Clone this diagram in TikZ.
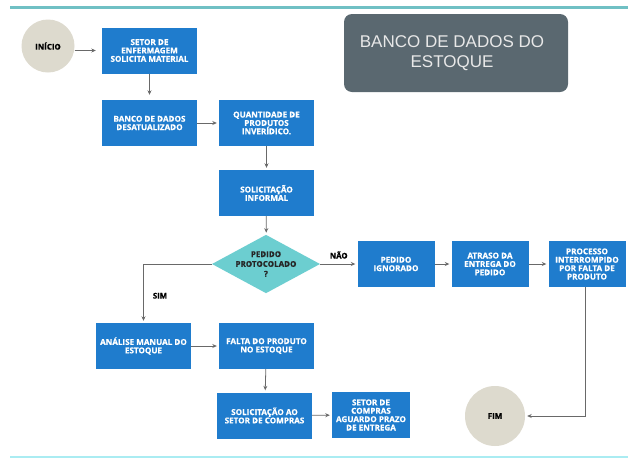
\documentclass[tikz,border=0pt]{standalone}
\usepackage{fontspec}
\setmainfont[BoldFeatures={FakeBold=0.7}]{Open Sans}
\newfontfamily\titlefont{Liberation Sans}
\usetikzlibrary{shapes.geometric,arrows.meta}
\definecolor{boxblue}{RGB}{31,124,205}
\definecolor{diamteal}{RGB}{108,206,208}
\definecolor{termbeige}{RGB}{221,218,206}
\definecolor{titlegray}{RGB}{90,104,112}
\definecolor{titletext}{RGB}{232,232,232}
\definecolor{arrowgray}{RGB}{105,105,105}
\definecolor{topteal}{RGB}{112,192,196}
\definecolor{botcyan}{RGB}{170,236,242}
\begin{document}
\begin{tikzpicture}[x=1pt,y=-1pt,
  procbox/.style={rectangle, fill=boxblue, text=white, font=\bfseries\fontsize{8.1}{8.4}\selectfont, align=center, inner sep=0pt, minimum width=95pt, minimum height=46pt},
  narrowbox/.style={procbox, minimum width=77pt},
  termnode/.style={circle, fill=termbeige, text=black, font=\bfseries\fontsize{7.9}{9}\selectfont, inner sep=0pt},
  decision/.style={diamond, aspect=1.85, fill=diamteal, text=black!85, font=\bfseries\fontsize{8}{9.8}\selectfont, align=center, inner sep=0pt, minimum width=102pt, minimum height=56pt},
  lbl/.style={text=black, font=\bfseries\fontsize{7.8}{9}\selectfont, inner sep=0pt},
  arr/.style={draw=arrowgray, line width=0.8pt, -{Stealth[length=4.5pt,width=4pt]}, shorten >=2pt}
]
\useasboundingbox (0,0) rectangle (628,461);
\fill[white] (0,0) rectangle (628,461);
% decorative lines
\draw[topteal, line width=3pt] (10,7) -- (628,7);
\draw[botcyan, line width=2pt] (10,457) -- (628,457);

% title
\node[rectangle, rounded corners=8pt, fill=titlegray, minimum width=224pt, minimum height=78pt, inner sep=0pt] (title) at (456,53) {};
\node[text=titletext, font=\titlefont\fontsize{17}{20}\selectfont, align=center, inner sep=0pt] (titletxt) at (452,53) {BANCO DE DADOS DO\\ESTOQUE};

% terminals
\node[termnode, minimum size=53pt] (inicio) at (48,46) {INÍCIO};
\node[termnode, minimum size=60pt] (fim) at (495,416) {FIM};

% process boxes
\node[procbox] (b1) at (149.5,50.5) {SETOR DE\\ENFERMAGEM\\SOLICITA MATERIAL};
\node[procbox] (b2) at (149.5,123) {BANCO DE DADOS\\DESATUALIZADO};
\node[procbox] (b3) at (266.5,123) {QUANTIDADE DE\\PRODUTOS\\INVERÍDICO.};
\node[procbox] (b4) at (266.5,193) {SOLICITAÇÃO\\INFORMAL};
\node[decision] (d) at (266,264) {PEDIDO\\PROTOCOLADO\\?};
\node[narrowbox] (ped) at (396,264) {PEDIDO\\IGNORADO};
\node[narrowbox] (atr) at (490,264) {ATRASO DA\\ENTREGA DO\\PEDIDO};
\node[narrowbox] (proc) at (587,264) {PROCESSO\\INTERROMPIDO\\POR FALTA DE\\PRODUTO};
\node[procbox] (ana) at (143.5,346) {ANÁLISE MANUAL DO\\ESTOQUE};
\node[procbox] (fal) at (266.5,346) {FALTA DO PRODUTO\\NO ESTOQUE};
\node[procbox] (sol) at (264.5,415.5) {SOLICITAÇÃO AO\\SETOR DE COMPRAS};
\node[narrowbox, minimum width=78pt] (set) at (371,415) {SETOR DE\\COMPRAS\\AGUARDO PRAZO\\DE ENTREGA};

% connectors
\draw[arr, shorten >=6pt] (inicio.east |- b1.west) -- (b1.west);
\draw[arr, shorten >=5pt] (b1) -- (b2);
\draw[arr] (b2) -- (b3);
\draw[arr] (b3) -- (b4);
\draw[arr] (b4) -- (d);
\draw[arr] (d.east) -- (ped.west) node[lbl, pos=0.5, above=5pt] (nao) {NÃO};
\draw[arr] (ped) -- (atr);
\draw[arr] (atr) -- (proc);
\draw[arr] (d.west) -| (ana.north) node[lbl, pos=0.77, right=9pt] (sim) {SIM};
\draw[arr] (ana) -- (fal);
\draw[arr] (fal) -- (sol);
\draw[arr] (sol) -- (set);
\draw[arr] ([xshift=-2pt]proc.south) |- (fim.east);
\end{tikzpicture}
\end{document}
